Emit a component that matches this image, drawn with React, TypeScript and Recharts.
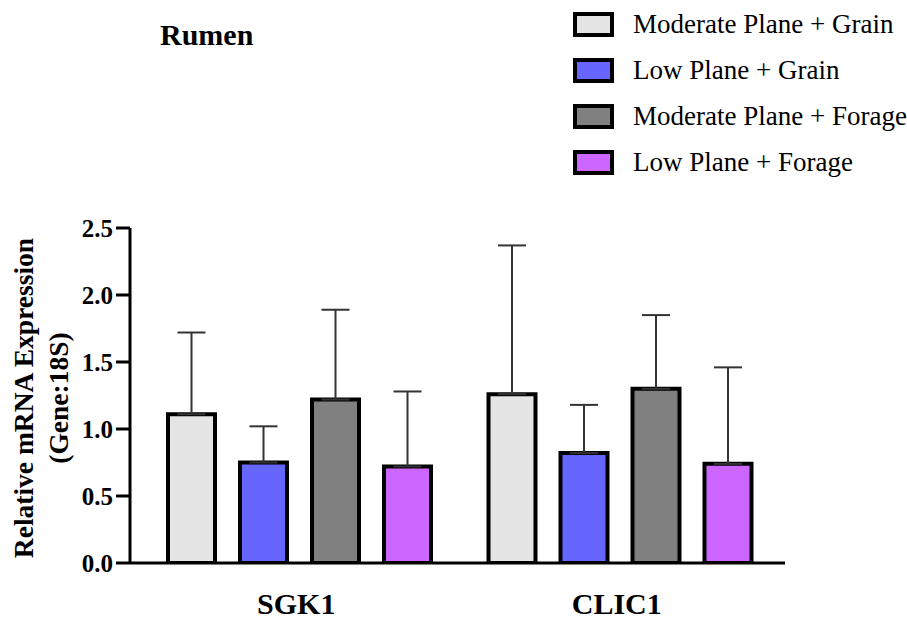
import React from 'react';
import { BarChart, Bar, XAxis, YAxis, ErrorBar } from 'recharts';

const genes = ['SGK1', 'CLIC1'];
const seriesNames = [
  'Moderate Plane + Grain',
  'Low Plane + Grain',
  'Moderate Plane + Forage',
  'Low Plane + Forage',
];
const seriesKeys = ['mg', 'lg', 'mf', 'lf'];
const seriesColors = ['#e5e5e5', '#6666ff', '#808080', '#cc66ff'];

const moderateGrain = [1.11, 1.26];
const moderateGrainErr = [0.61, 1.11];
const lowGrain = [0.75, 0.82];
const lowGrainErr = [0.27, 0.36];
const moderateForage = [1.22, 1.30];
const moderateForageErr = [0.67, 0.55];
const lowForage = [0.72, 0.74];
const lowForageErr = [0.56, 0.72];

const yTicks = [0, 0.5, 1.0, 1.5, 2.0, 2.5];

const seriesValues = [moderateGrain, lowGrain, moderateForage, lowForage];
const seriesErrors = [moderateGrainErr, lowGrainErr, moderateForageErr, lowForageErr];

const data = genes.map((g, i) => {
  const row: any = { gene: g };
  seriesKeys.forEach((k, s) => {
    row[k] = seriesValues[s][i];
    row[k + 'Err'] = [0, seriesErrors[s][i]];
  });
  return row;
});

const FONT = '"Liberation Serif", "Times New Roman", Times, serif';

const XTick = (props: any) => {
  const { x, y, payload } = props;
  return (
    <text
      x={x - 3}
      y={y + 43}
      textAnchor="middle"
      fontFamily={FONT}
      fontWeight="bold"
      fontSize={30}
      fill="#000"
    >
      {payload.value}
    </text>
  );
};

export default function App() {
  return (
    <div style={{ position: 'absolute', left: 0, top: 0, width: 907, height: 621, background: '#fff' }}>
      <BarChart
        width={907}
        height={621}
        data={data}
        margin={{ top: 228, right: 122, bottom: 28, left: 0 }}
        barSize={47}
        barGap={25}
      >
        <XAxis
          dataKey="gene"
          height={30}
          axisLine={{ stroke: '#000', strokeWidth: 3 }}
          tickLine={false}
          padding={{ left: 9, right: 5 }}
          tick={<XTick />}
          interval={0}
        />
        <YAxis
          type="number"
          domain={[0, 2.5]}
          ticks={yTicks}
          width={130}
          tickFormatter={(v: number) => v.toFixed(1)}
          axisLine={{ stroke: '#000', strokeWidth: 3 }}
          tickLine={{ stroke: '#000', strokeWidth: 3 }}
          tickSize={14}
          tickMargin={3}
          tick={{ fontSize: 25, fontWeight: 'bold', fill: '#000', fontFamily: FONT }}
          allowDataOverflow
        />
        {seriesKeys.map((k, s) => (
          <Bar
            key={k}
            dataKey={k}
            fill={seriesColors[s]}
            stroke="#000"
            strokeWidth={4}
            isAnimationActive={false}
          >
            <ErrorBar
              dataKey={k + 'Err'}
              direction="y"
              width={14}
              stroke="#333"
              strokeWidth={2}
              isAnimationActive={false}
            />
          </Bar>
        ))}
      </BarChart>
      <svg
        width={907}
        height={621}
        style={{ position: 'absolute', left: 0, top: 0, pointerEvents: 'none' }}
      >
        <text x={160} y={45} fontFamily={FONT} fontWeight="bold" fontSize={30} fill="#000">
          Rumen
        </text>
        {seriesNames.map((name, i) => (
          <g key={name}>
            <rect
              x={575}
              y={14 + i * 46}
              width={37}
              height={21}
              fill={seriesColors[i]}
              stroke="#000"
              strokeWidth={4}
            />
            <text x={633} y={33 + i * 46} fontFamily={FONT} fontSize={27} fill="#000">
              {name}
            </text>
          </g>
        ))}
        <text
          x={33}
          y={398}
          transform="rotate(-90, 33, 398)"
          textAnchor="middle"
          fontFamily={FONT}
          fontWeight="bold"
          fontSize={27.5}
          fill="#000"
        >
          Relative mRNA Expression
        </text>
        <text
          x={68}
          y={398}
          transform="rotate(-90, 68, 398)"
          textAnchor="middle"
          fontFamily={FONT}
          fontWeight="bold"
          fontSize={27.5}
          fill="#000"
        >
          (Gene:18S)
        </text>
      </svg>
    </div>
  );
}
